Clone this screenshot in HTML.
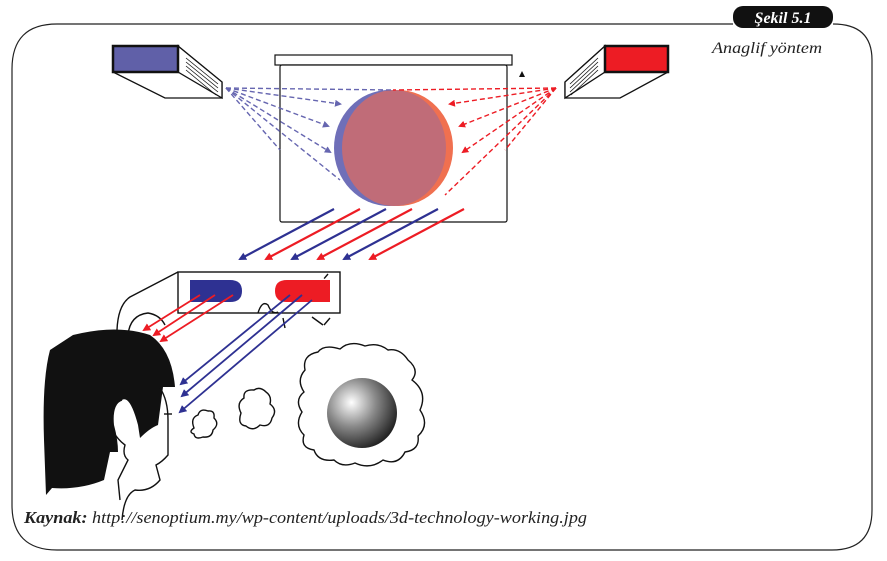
<!DOCTYPE html>
<html><head><meta charset="utf-8"><style>
body{margin:0;background:#fff}
svg{display:block}
</style></head><body>
<svg width="887" height="561" viewBox="0 0 887 561" xmlns="http://www.w3.org/2000/svg">
<defs>
<radialGradient id="sph" cx="0.35" cy="0.35" r="0.7">
<stop offset="0" stop-color="#fff"/><stop offset="0.5" stop-color="#888"/><stop offset="1" stop-color="#222"/></radialGradient>
<marker id="ab" markerWidth="8" markerHeight="8" refX="6" refY="4" orient="auto" markerUnits="userSpaceOnUse"><path d="M0,0 L8,4 L0,8 z" fill="#2e3192"/></marker>
<marker id="ar" markerWidth="8" markerHeight="8" refX="6" refY="4" orient="auto" markerUnits="userSpaceOnUse"><path d="M0,0 L8,4 L0,8 z" fill="#ed1c24"/></marker>
<marker id="abl" markerWidth="7" markerHeight="7" refX="5" refY="3.5" orient="auto" markerUnits="userSpaceOnUse"><path d="M0,0 L7,3.5 L0,7 z" fill="#6666b0"/></marker>
<marker id="arl" markerWidth="7" markerHeight="7" refX="5" refY="3.5" orient="auto" markerUnits="userSpaceOnUse"><path d="M0,0 L7,3.5 L0,7 z" fill="#ed1c24"/></marker>
</defs>
<path d="M57,24 H733 M833,24 Q872,24 872,60 V510 Q872,550 832,550 H57 Q12,550 12,505 V69 Q12,24 57,24" fill="none" stroke="#222" stroke-width="1.2"/>
<rect x="733" y="6" width="100" height="22" rx="10" fill="#111"/>
<text x="783" y="23" text-anchor="middle" font-family="Liberation Serif,serif" font-style="italic" font-weight="bold" font-size="16" fill="#fff">Şekil 5.1</text>
<text x="712" y="53" textLength="110" lengthAdjust="spacingAndGlyphs" font-family="Liberation Serif,serif" font-style="italic" font-size="16" fill="#222">Anaglif yöntem</text>
<g stroke="#111" stroke-width="1.3" fill="#fff">
<path d="M113,72 L165,98 L222,98 L222,82 L178,46 L178,72 Z"/>
<path d="M178,46 L222,82 L222,98 L178,72 Z"/>
<rect x="113" y="46" width="65" height="26" fill="#6060a8" stroke-width="2.5"/>
<path d="M668,72 L620,98 L565,98 L565,82 L605,46 L605,72 Z"/>
<path d="M605,46 L565,82 L565,98 L605,72 Z"/>
<rect x="605" y="46" width="63" height="26" fill="#ed1c24" stroke-width="2.5"/>
</g>
<g stroke="#111" stroke-width="0.8">
<line x1="186" y1="58" x2="218" y2="84"/><line x1="186" y1="62" x2="218" y2="88"/><line x1="186" y1="66" x2="218" y2="92"/><line x1="186" y1="70" x2="216" y2="95"/>
<line x1="598" y1="58" x2="570" y2="84"/><line x1="598" y1="62" x2="570" y2="88"/><line x1="598" y1="66" x2="570" y2="92"/><line x1="598" y1="70" x2="571" y2="95"/>
</g>
<rect x="275" y="55" width="237" height="10" fill="#fff" stroke="#111" stroke-width="1.2"/>
<rect x="280" y="65" width="227" height="157" rx="2" fill="#fff" stroke="#111" stroke-width="1.2"/>
<path d="M519,77 L522,71 L525,77 Z" fill="#111"/>
<ellipse cx="389" cy="148" rx="55" ry="58" fill="#6f6fb8"/>
<ellipse cx="398" cy="148" rx="55" ry="58" fill="#f07050"/>
<ellipse cx="394" cy="148" rx="52" ry="58" fill="#c06c78"/>
<g stroke="#6666b0" stroke-width="1.4" fill="none" stroke-dasharray="5,3">
<line x1="226" y1="88" x2="393" y2="90"/>
<line x1="226" y1="88" x2="340" y2="104" marker-end="url(#abl)"/>
<line x1="226" y1="88" x2="328" y2="126" marker-end="url(#abl)"/>
<line x1="226" y1="88" x2="330" y2="152" marker-end="url(#abl)"/>
<line x1="226" y1="88" x2="340" y2="180"/>
<line x1="226" y1="88" x2="280" y2="150"/>
</g>
<g stroke="#ed1c24" stroke-width="1.4" fill="none" stroke-dasharray="5,3">
<line x1="556" y1="88" x2="393" y2="90"/>
<line x1="556" y1="88" x2="450" y2="104" marker-end="url(#arl)"/>
<line x1="556" y1="88" x2="460" y2="126" marker-end="url(#arl)"/>
<line x1="556" y1="88" x2="463" y2="152" marker-end="url(#arl)"/>
<line x1="556" y1="88" x2="445" y2="195"/>
<line x1="556" y1="88" x2="505" y2="150"/>
</g>
<g stroke-width="2.2">
<line x1="334" y1="209" x2="240" y2="259" stroke="#2e3192" marker-end="url(#ab)"/>
<line x1="360" y1="209" x2="266" y2="259" stroke="#ed1c24" marker-end="url(#ar)"/>
<line x1="386" y1="209" x2="292" y2="259" stroke="#2e3192" marker-end="url(#ab)"/>
<line x1="412" y1="209" x2="318" y2="259" stroke="#ed1c24" marker-end="url(#ar)"/>
<line x1="438" y1="209" x2="344" y2="259" stroke="#2e3192" marker-end="url(#ab)"/>
<line x1="464" y1="209" x2="370" y2="259" stroke="#ed1c24" marker-end="url(#ar)"/>
</g>
<g fill="none" stroke="#111" stroke-width="1.4">
<path d="M178,272 L130,297 Q118,305 117,330"/>
<path d="M128,335 Q130,315 148,313 Q160,315 165,325"/>
<rect x="178" y="272" width="162" height="41" fill="#fff"/>
<path d="M258,313 Q262,300 268,305 Q272,315 278,312"/>
<line x1="328" y1="274" x2="306" y2="300" stroke-dasharray="6,4"/>
<path d="M312,317 L323,325 M330,318 L324,325" />
<path d="M283,318 L285,328"/>
</g>
<path d="M190,280 H230 Q242,280 242,291 Q242,302 230,302 H190 Z" fill="#2e3192"/>
<path d="M287,280 H330 V302 H287 Q275,302 275,291 Q275,280 287,280 Z" fill="#ed1c24"/>
<g stroke-width="1.8">
<line x1="200" y1="295" x2="144" y2="330" stroke="#ed1c24" marker-end="url(#ar)"/>
<line x1="215" y1="295" x2="154" y2="335" stroke="#ed1c24" marker-end="url(#ar)"/>
<line x1="233" y1="295" x2="161" y2="341" stroke="#ed1c24" marker-end="url(#ar)"/>
<line x1="290" y1="295" x2="181" y2="384" stroke="#2e3192" marker-end="url(#ab)"/>
<line x1="302" y1="295" x2="182" y2="396" stroke="#2e3192" marker-end="url(#ab)"/>
<line x1="312" y1="300" x2="180" y2="412" stroke="#2e3192" marker-end="url(#ab)"/>
</g>
<path d="M73,335 L82,333 Q120,325 150,335 Q172,350 175,387 L163,387 L158,425 Q150,428 140,438 L138,425 Q130,395 122,400 Q112,405 114,425 Q118,440 118,452 L110,452 L104,480 Q80,490 52,488 L46,495 L44,440 Q42,380 50,350 Z" fill="#111"/>
<g fill="none" stroke="#111" stroke-width="1.4">
<path d="M160,388 Q168,400 168,420 L168,455 Q162,462 156,465 L160,480 Q150,492 135,490 Q124,495 122,520"/>
<path d="M122,400 Q108,405 112,430 Q118,440 125,445 Q122,455 128,460 L118,480 L120,500"/>
<line x1="164" y1="414" x2="172" y2="414"/>
</g>
<g fill="#fff" stroke="#111" stroke-width="1.4">
<path d="M194,428 Q190,418 198,415 Q200,408 208,411 Q215,410 214,418 Q220,424 213,430 Q212,438 203,437 Q195,440 194,434 Q188,432 194,428 Z"/>
<path d="M241,413 Q236,403 244,398 Q243,389 254,390 Q260,386 266,392 Q272,396 270,404 Q278,410 272,418 Q270,428 260,425 Q253,432 246,426 Q237,425 241,413 Z"/>
<path d="M305,370 Q302,355 318,352 Q324,344 340,349 Q350,340 365,346 Q378,342 388,350 Q400,348 408,360 Q420,370 412,380 Q428,392 420,410 Q430,425 418,436 Q420,450 405,452 Q398,466 383,460 Q370,470 355,463 Q342,468 334,460 Q318,462 314,450 Q300,448 304,435 Q294,425 302,412 Q294,400 304,392 Q296,380 305,370 Z"/>
</g>
<circle cx="362" cy="413" r="35" fill="url(#sph)"/>
<text x="24" y="523" textLength="563" lengthAdjust="spacingAndGlyphs" font-family="Liberation Serif,serif" font-style="italic" font-size="16.5" fill="#222"><tspan font-weight="bold">Kaynak:</tspan> http://senoptium.my/wp-content/uploads/3d-technology-working.jpg</text>
</svg>
</body></html>
